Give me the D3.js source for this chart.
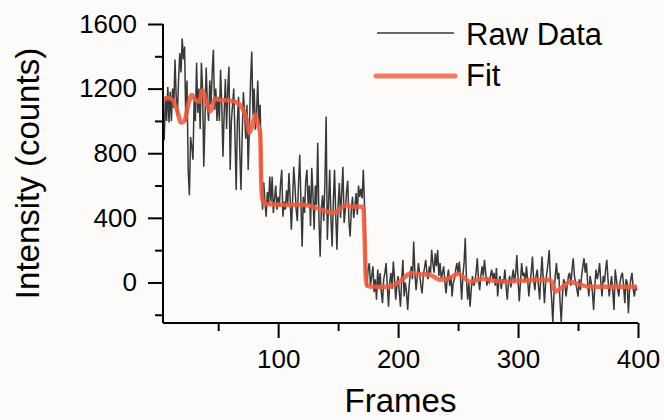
<!DOCTYPE html>
<html>
<head>
<meta charset="utf-8">
<script src="https://cdn.jsdelivr.net/npm/d3@7"></script>
<style>
  body { margin: 0; background: #fcfbfa; }
  svg { display: block; font-family: "Liberation Sans", Arial, sans-serif; }
  .axis path, .axis line { stroke: #000; stroke-width: 2; }
</style>
</head>
<body>
<div id="chart"></div>
<script>
// raw intensity, one value per frame starting at rawStart
const rawStart = 4;
const rawCounts = [
  1050, 880, 1150, 1000, 1210, 990, 1180, 1000, 1200, 1080,
  1380, 1150, 1030, 1260, 1420, 1300, 1510, 1380, 1460, 1000, 1250, 700, 540, 900, 840, 760,
  1150, 1000, 1360, 1050, 1200, 950, 1360, 1200, 716, 1000, 1330, 1100, 1000, 1250, 1100, 1300, 1440, 1070, 1200, 1000,
  1150, 1000, 1317, 1100, 778, 1050, 1260, 950, 1200, 1336, 697, 1000, 1100, 1200, 900, 573, 1000, 1150, 820, 573,
  900, 1178, 1050, 890, 1100, 697, 950, 1250, 1429, 1037, 1200, 945, 1050, 1250, 980, 1100,
  635, 450, 620, 500, 407, 560, 480, 655, 500, 655, 430, 520, 600, 450, 530, 470, 615, 697, 407, 500,
  450, 570, 480, 678, 520, 326, 500, 716, 600, 450, 380, 620, 791, 500, 221, 530, 430, 630, 697, 480,
  600, 350, 710, 550, 326, 600, 480, 865, 400, 160, 450, 540, 380, 620, 1028, 264, 480, 697, 400, 222,
  500, 697, 420, 202, 480, 615, 400, 560, 716, 368, 450, 560, 630, 380, 284, 450, 530, 400, 470, 554,
  420, 600, 530, 580, 520, 697, 480, 60, -27, 80, 119, -20, 40, 100, -60, 20, -107, 80, -40, 58,
  -60, -128, 20, 60, 120, -20, -150, 0, 60, -40, 130, 30, -107, -20, 40, -60, -150, 20, 140, -87,
  0, -60, -170, -40, 40, 100, 20, 253, 60, -48, 40, 120, 50, -20, -68, 40, 90, 140, 60, 20,
  100, 60, 202, 120, 60, 180, 100, 200, 40, 120, 20, 60, 100, 0, -68, 30, 80, -20, 40, -87,
  0, 20, 80, 120, 50, 130, 30, -107, 40, 120, 275, 20, -107, 0, -150, -40, 40, -20, 0, 60,
  150, 20, -48, 40, 100, 40, 140, 60, -20, 20, 0, 40, 80, 20, 60, -20, 90, -87, 10, 40,
  -40, 20, 0, 80, -20, -107, 0, 40, -30, 30, 80, 0, 60, 170, 20, -117, 0, 120, 40, 60,
  0, 100, 20, -87, 0, 60, 160, 20, -48, 40, 80, -20, -107, 40, 160, 20, -128, 0, 60, 120,
  200, 0, -100, -250, -60, 40, 120, 20, 60, -120, -245, -87, 20, 0, -87, -20, 40, 60, -20, 80,
  150, 40, 0, -40, -87, 20, -48, 40, 100, 150, 60, 120, 0, -87, 40, 0, -60, -170, -20, 80,
  20, 60, 120, 0, -87, 40, 0, 80, 140, 20, -87, -20, 40, -60, -170, 80, 20, -40, -87, 0,
  40, 60, -20, -128, 20, 0, -190, -40, 20, 60, -40, -87, -20, -48
];

// step fit read at key frames
const fitFrames = [4, 8, 12, 16, 19, 22, 25, 28, 31, 34, 37, 40, 43, 45, 47, 52, 60, 64, 70, 74, 76, 78, 81, 83, 85,
  86, 87, 89, 100, 110, 120, 126, 132, 140, 146, 150, 154, 157, 160, 166, 171, 172, 173, 174,
  180, 190, 195, 201, 205, 211, 220, 226, 235, 245, 250, 255, 260, 266, 271, 280, 290, 300, 315, 326,
  329, 331, 335, 340, 343, 350, 360, 380, 399];
const fitCounts = [1131, 1142, 1130, 1060, 990, 1000, 1100, 1160, 1130, 1120, 1188, 1120, 1060, 1080, 1137, 1130, 1125, 1119, 1081, 1000, 926, 960, 1037, 980, 925,
  600, 511, 485, 482, 480, 481, 475, 461, 440, 430, 445, 470, 481, 470, 468, 468, 300, 40, -20,
  -27, -27, -20, 4, 30, 58, 50, 48, 17, 35, 54, 30, 4, 15, 23, 10, 4, 10, 15, 17,
  -10, -57, -40, -10, 4, -10, -27, -27, -27];

const xTicks = [100, 200, 300, 400];
const xMinor = [50, 150, 250, 350];
const yTicks = [0, 400, 800, 1200, 1600];
const yMinor = [-200, 200, 600, 1000, 1400];

const W = 664, H = 420;
const plot = { left: 163, right: 638, top: 24, bottom: 323 };

const x = d3.scaleLinear().domain([4, 400]).range([plot.left, plot.right]);
const y = d3.scaleLinear().domain([-251, 1600]).range([plot.bottom, plot.top]);

const svg = d3.select("#chart").append("svg")
  .attr("width", W).attr("height", H);

const rawData = rawCounts.map((v, i) => [rawStart + i, v]);
const fitData = fitFrames.map((f, i) => [f, fitCounts[i]]);

// raw trace
svg.append("path")
  .datum(rawData)
  .attr("fill", "none")
  .attr("stroke", "#383838")
  .attr("stroke-width", 1.5)
  .attr("d", d3.line().x(d => x(d[0])).y(d => y(d[1])));

// fit
svg.append("path")
  .datum(fitData)
  .attr("fill", "none")
  .attr("stroke", "#ef5b3c")
  .attr("stroke-opacity", 0.88)
  .attr("stroke-width", 4.5)
  .attr("stroke-linejoin", "round")
  .attr("d", d3.line().curve(d3.curveMonotoneX).x(d => x(d[0])).y(d => y(d[1])));

// axes
const gx = svg.append("g").attr("class", "axis")
  .attr("transform", "translate(0," + plot.bottom + ")")
  .call(d3.axisBottom(x).tickValues(xTicks).tickFormat(d3.format("d"))
    .tickSize(15).tickSizeOuter(0).tickPadding(12));
svg.append("g").attr("class", "axis")
  .attr("transform", "translate(0," + plot.bottom + ")")
  .call(d3.axisBottom(x).tickValues(xMinor).tickSize(8).tickFormat(""))
  .select(".domain").remove();

const gy = svg.append("g").attr("class", "axis")
  .attr("transform", "translate(" + plot.left + ",0)")
  .call(d3.axisLeft(y).tickValues(yTicks).tickFormat(d3.format("d"))
    .tickSize(15).tickSizeOuter(0).tickPadding(11));
svg.append("g").attr("class", "axis")
  .attr("transform", "translate(" + plot.left + ",0)")
  .call(d3.axisLeft(y).tickValues(yMinor).tickSize(8).tickFormat(""))
  .select(".domain").remove();

svg.selectAll(".axis")
  .attr("font-family", "'Liberation Sans', Arial, sans-serif")
  .attr("font-size", 26);
svg.selectAll(".axis text").attr("fill", "#000");

// domain lines should span the full plot box
gx.select(".domain").attr("d", "M" + plot.left + ",0H" + plot.right);
gy.select(".domain").attr("d", "M0," + plot.top + "V" + plot.bottom);

// axis titles
svg.append("text")
  .attr("x", (plot.left + plot.right) / 2)
  .attr("y", 412)
  .attr("text-anchor", "middle")
  .style("font-size", "33px")
  .text("Frames");

svg.append("text")
  .attr("transform", "translate(39," + ((plot.top + plot.bottom) / 2) + ") rotate(-90)")
  .attr("text-anchor", "middle")
  .style("font-size", "33px")
  .text("Intensity (counts)");

// legend
const legend = svg.append("g");
legend.append("line")
  .attr("x1", 377).attr("x2", 454).attr("y1", 33).attr("y2", 33)
  .attr("stroke", "#383838").attr("stroke-width", 1.5);
legend.append("text")
  .attr("x", 466).attr("y", 45)
  .style("font-size", "31px")
  .text("Raw Data");
legend.append("line")
  .attr("x1", 376).attr("x2", 455).attr("y1", 76).attr("y2", 76)
  .attr("stroke", "#ef5b3c").attr("stroke-opacity", 0.8)
  .attr("stroke-width", 5).attr("stroke-linecap", "round");
legend.append("text")
  .attr("x", 466).attr("y", 86)
  .style("font-size", "31px")
  .text("Fit");
</script>
</body>
</html>
